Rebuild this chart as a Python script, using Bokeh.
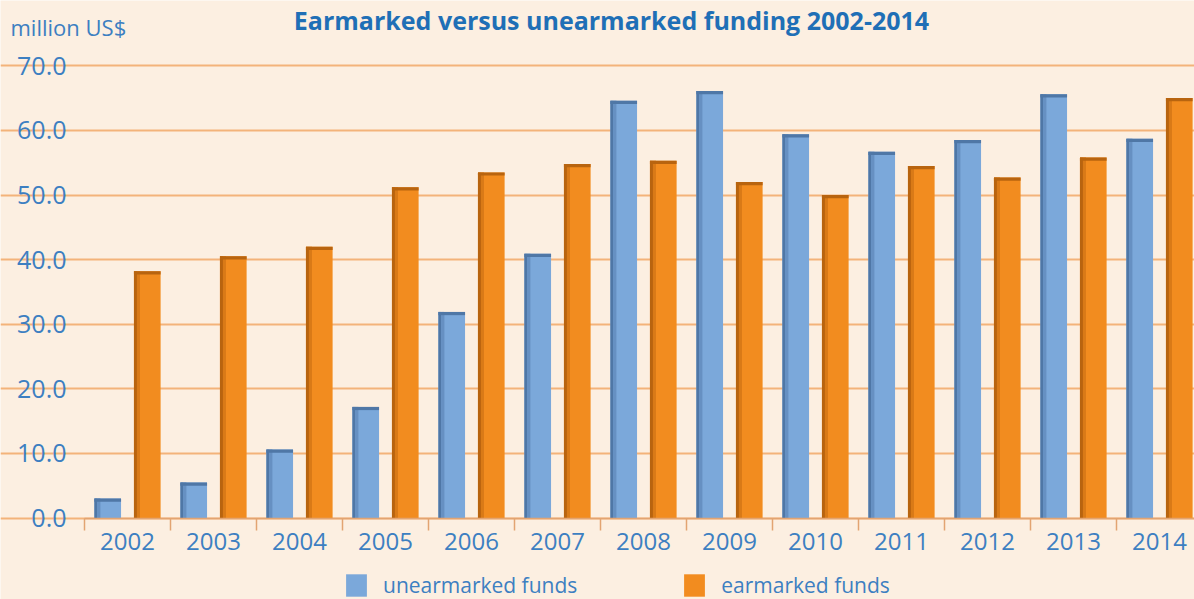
from bokeh.plotting import figure
from bokeh.models import (Range1d, FixedTicker, NumeralTickFormatter, Legend, LegendItem,
                          ColumnDataSource, Label)
from bokeh.transform import dodge
from bokeh.embed import file_html
from bokeh.resources import INLINE

years = [2002, 2003, 2004, 2005, 2006, 2007, 2008, 2009, 2010, 2011, 2012, 2013, 2014]
year_labels = ["2002", "2003", "2004", "2005", "2006", "2007", "2008", "2009", "2010",
               "2011", "2012", "2013", "2014"]
unearmarked = [3.0, 5.5, 10.6, 17.2, 31.9, 40.9, 64.6, 66.1, 59.4, 56.7, 58.5, 65.6, 58.7]
earmarked = [38.2, 40.5, 42.0, 51.2, 53.5, 54.8, 55.3, 52.0, 50.0, 54.5, 52.7, 55.8, 65.0]
y_ticks = [0, 10, 20, 30, 40, 50, 60, 70]

BG = "#FCEFE1"
BLUE = "#7BA8DA"
BLUE_D = "#4F77A6"
BLUE_M = "#6690C2"
ORANGE = "#F28C1F"
ORANGE_D = "#B8640F"
ORANGE_M = "#D97A17"
GRID = "#F3B37A"
AXIS = "#E2A472"
TXT = "#3D7FC1"
TITLE = "#1F6FB6"
FONT = "Open Sans"

W, H = 1194, 599
cap = 0.5
src = ColumnDataSource(dict(
    year=years,
    u=unearmarked, e=earmarked,
    u_cap=[v - cap for v in unearmarked],
    e_cap=[v - cap for v in earmarked],
))

x0 = years[0] - 0.5          # left edge of the category area
px_per_year = 86.0
px_per_unit = 6.46
left_px, base_px = 84.0, 517.5
x_start = x0 - left_px / px_per_year
x_end = x0 + (W - left_px) / px_per_year
y_start = -(H - base_px) / px_per_unit
y_end = base_px / px_per_unit

p = figure(width=W, height=H, output_backend="svg", toolbar_location=None,
           x_range=Range1d(x_start, x_end), y_range=Range1d(y_start, y_end),
           min_border_left=0, min_border_right=0, min_border_top=0, min_border_bottom=0,
           background_fill_color=BG, border_fill_color=BG, outline_line_color=None)

off = 0.23
w = 0.31
rb = p.vbar(x=dodge("year", -off, range=p.x_range), top="u", width=w, source=src,
            fill_color=BLUE, line_color=None)
ro = p.vbar(x=dodge("year", off, range=p.x_range), top="e", width=w, source=src,
            fill_color=ORANGE, line_color=None)
# shading (left edge and top cap)
for o, col, dk, md in [(-off, "u", BLUE_D, BLUE_M), (off, "e", ORANGE_D, ORANGE_M)]:
    p.vbar(x=dodge("year", o - w / 2 + 0.0175, range=p.x_range), top=col, width=0.035,
           source=src, fill_color=dk, line_color=None)
    p.vbar(x=dodge("year", o - w / 2 + 0.0525, range=p.x_range), top=col, width=0.035,
           source=src, fill_color=md, line_color=None)
    p.vbar(x=dodge("year", o, range=p.x_range), top=col, bottom=col + "_cap", width=w,
           source=src, fill_color=dk, line_color=None)

# grid
p.xgrid.visible = False
p.ygrid.ticker = FixedTicker(ticks=y_ticks)
p.ygrid.grid_line_color = GRID
p.ygrid.grid_line_width = 2
p.ygrid.bounds = (x0, x_end)
p.ygrid.level = "underlay"

# y axis
ya = p.yaxis[0]
ya.fixed_location = x0
ya.ticker = FixedTicker(ticks=y_ticks)
ya.formatter = NumeralTickFormatter(format="0.0")
ya.axis_line_color = None
ya.major_tick_line_color = None
ya.minor_tick_line_color = None
ya.major_tick_out = 0
ya.major_tick_in = 0
ya.major_label_standoff = 18
ya.major_label_text_font = FONT
ya.major_label_text_font_size = "25px"
ya.major_label_text_color = TXT

# x axis
boundaries = [x0] + [y + 0.5 for y in years]
xa = p.xaxis[0]
xa.fixed_location = 0
xa.bounds = (x0, x_end)
xa.ticker = FixedTicker(ticks=years, minor_ticks=boundaries)
xa.major_label_overrides = {y: s for y, s in zip(years, year_labels)}
xa.axis_line_color = AXIS
xa.axis_line_width = 1.5
xa.major_tick_line_color = None
xa.major_tick_out = 0
xa.major_tick_in = 0
xa.minor_tick_line_color = AXIS
xa.minor_tick_line_width = 1.5
xa.minor_tick_out = 12
xa.minor_tick_in = 0
xa.major_label_standoff = 3
xa.major_label_text_font = FONT
xa.major_label_text_font_size = "24px"
xa.major_label_text_color = TXT

legend = Legend(items=[LegendItem(label="unearmarked funds", renderers=[rb]),
                       LegendItem(label="earmarked funds", renderers=[ro])],
                orientation="horizontal", location=(343, 0),
                glyph_width=26, glyph_height=28, label_standoff=14, spacing=104,
                padding=0, margin=0,
                background_fill_alpha=0, border_line_color=None,
                label_text_font=FONT, label_text_font_size="21px", label_text_color=TXT)
p.add_layout(legend)

title = Label(x=611, y=H - 2, x_units="screen", y_units="screen",
              text="Earmarked versus unearmarked funding 2002-2014",
              text_font=FONT, text_font_style="bold", text_font_size="25px",
              text_color=TITLE, text_align="center", text_baseline="top")
unit = Label(x=10, y=H - 11, x_units="screen", y_units="screen", text="million US$",
             text_font=FONT, text_font_size="22px", text_color=TXT,
             text_align="left", text_baseline="top")
p.add_layout(title)
p.add_layout(unit)

open("out.html", "w").write(file_html(p, INLINE))
